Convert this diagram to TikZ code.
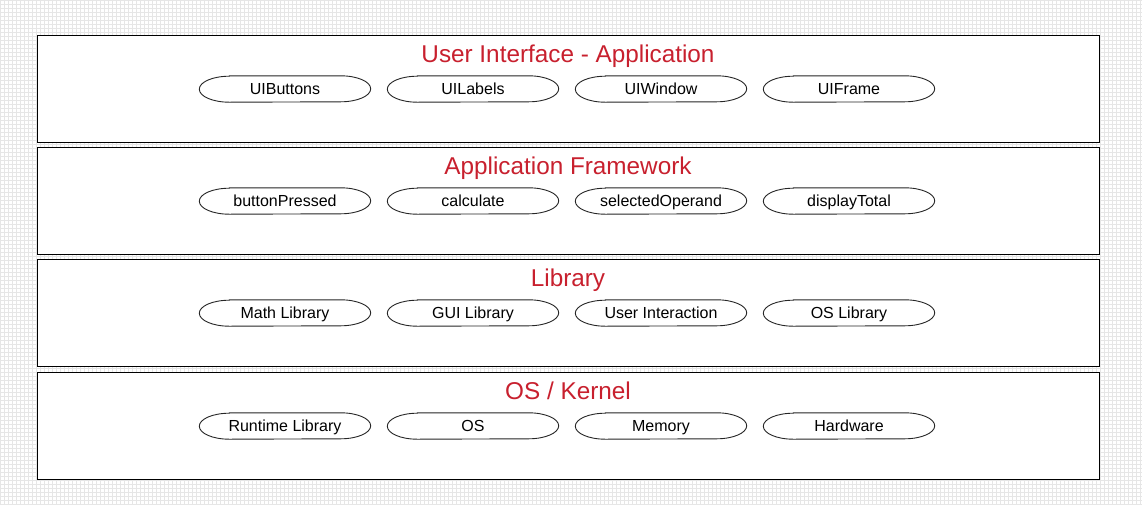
\documentclass[tikz,border=0pt]{standalone}
\usepackage{fontspec}
\setmainfont{Liberation Sans}
\definecolor{titlered}{HTML}{C8202E}
\definecolor{gridgray}{HTML}{E6E6E6}
\begin{document}
\begin{tikzpicture}[x=1pt,y=-1pt,
  layerbox/.style={draw=black, line width=1.2pt, fill=white, minimum width=1062pt, minimum height=107pt, inner sep=0pt, anchor=north west},
  layertitle/.style={text=titlered, font=\fontsize{24.3}{26}\selectfont, inner sep=0pt, anchor=base},
  pill/.style={minimum width=171pt, minimum height=26pt, inner sep=0pt, text height=11.5pt, text depth=0pt, font=\fontsize{16}{18}\selectfont},
  pilloutline/.style={draw=black!85, line width=0.9pt}]
\useasboundingbox (0,0) rectangle (1142,504);
\fill[white] (0,0) rectangle (1142,504);
\draw[gridgray, line width=0.8pt, step=4pt] (0,0) grid (1142,504);
\def\layerY{{35,147,259,372}}
\foreach \i/\t in {0/{User Interface - Application},1/{Application Framework},2/{Library},3/{OS / Kernel}}{
  \pgfmathsetmacro{\yy}{\layerY[\i]}
  \node[layerbox] (box\i) at (37,\yy) {};
  \node[layertitle] (title\i) at (568,\yy+27) {\t};
}
\foreach \i/\a/\b/\c/\d in {
  0/UIButtons/UILabels/UIWindow/UIFrame,
  1/buttonPressed/calculate/selectedOperand/displayTotal,
  2/Math Library/GUI Library/User Interaction/OS Library,
  3/Runtime Library/OS/Memory/Hardware}{
  \pgfmathsetmacro{\yy}{\layerY[\i]+54}
  \node[pill] (p\i a) at (285,\yy) {\a};
  \node[pill] (p\i b) at (473,\yy) {\b};
  \node[pill] (p\i c) at (661,\yy) {\c};
  \node[pill] (p\i d) at (849,\yy) {\d};
  \foreach \k in {a,b,c,d}{
    \draw[pilloutline] ([xshift=30pt]p\i\k.north west) -- ([xshift=-30pt]p\i\k.north east)
      arc[start angle=90, end angle=-90, x radius=30pt, y radius=13pt]
      -- ([xshift=30pt]p\i\k.south west)
      arc[start angle=270, end angle=90, x radius=30pt, y radius=13pt] -- cycle;
  }
}
\end{tikzpicture}
\end{document}
